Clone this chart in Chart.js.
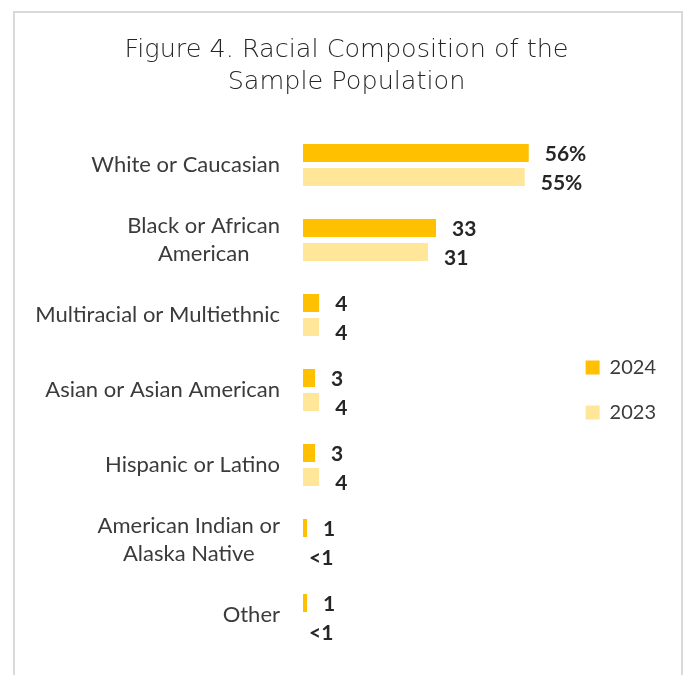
<!DOCTYPE html>
<html>
<head>
<meta charset="utf-8">
<script src="https://cdn.jsdelivr.net/npm/chart.js@4"></script>
<style>
  html, body { margin: 0; padding: 0; background: #ffffff; overflow: hidden; }
  #wrap { position: relative; width: 686px; height: 675px; }
  #frame {
    position: absolute; left: 13px; top: 11px; width: 666px; height: 700px;
    border: 2px solid #d9d9d9; border-bottom: none;
  }
  #chart { position: absolute; left: 0; top: 0; }
</style>
</head>
<body>
<div id="wrap">
  <div id="frame"></div>
  <canvas id="chart" width="686" height="675"></canvas>
</div>
<script>
/* categories, top to bottom */
const categories = [
    ["White or Caucasian"],
    ["Black or African", "American"],
    ["Multiracial or Multiethnic"],
    ["Asian or Asian American"],
    ["Hispanic or Latino"],
    ["American Indian or", "Alaska Native"],
    ["Other"]
];

/* percent of sample */
const values2024 = [56, 33, 4, 3, 3, 1, 1];
const values2023 = [55, 31, 4, 4, 4, 0, 0];

/* value labels as printed */
const labels2024 = ["56%", "33", "4", "3", "3", "1", "1"];
const labels2023 = ["55%", "31", "4", "4", "4", "<1", "<1"];

const seriesNames = ["2024", "2023"];

const TEXT_CLR  = "#3b3b3b";
const LABEL_FONT = "Lato, 'Open Sans', sans-serif";

/* category labels: block right aligned, lines centered inside the block */
const catLabelPlugin = {
    id: "catLabels",
    afterDraw (chart) {
        const ctx   = chart.ctx;
        const yScl  = chart.scales.y;
        const right = chart.chartArea.left - 23;
        const lineH = 28;
        ctx.save();
        ctx.font = "22px " + LABEL_FONT;
        ctx.fillStyle = TEXT_CLR;
        ctx.textAlign = "center";
        ctx.textBaseline = "middle";
        categories.forEach((lines, idx) => {
            let wid = 0;
            for (let ln of lines) {
                wid = Math.max(wid, ctx.measureText(ln).width);
            }
            const cx  = right - wid / 2;
            const cy  = yScl.getPixelForValue(idx);
            const top = cy - (lines.length - 1) * lineH / 2;
            lines.forEach((ln, lidx) => {
                ctx.fillText(ln, cx, top + lidx * lineH);
            });
        });
        ctx.restore();
    }
};

/* value labels at the end of each bar */
const valueLabelPlugin = {
    id: "valueLabels",
    afterDatasetsDraw (chart) {
        const ctx = chart.ctx;
        const texts = [labels2024, labels2023];
        const dy    = [1.5, 6];
        ctx.save();
        ctx.font = "bold 21px " + LABEL_FONT;
        ctx.fillStyle = "#262626";
        ctx.textAlign = "left";
        ctx.textBaseline = "middle";
        chart.data.datasets.forEach((ds, didx) => {
            const meta = chart.getDatasetMeta(didx);
            meta.data.forEach((bar, idx) => {
                /* zero-width bars get their label pulled in */
                const gap = (0 === ds.data[idx]) ? 6 : 16;
                ctx.fillText(texts[didx][idx], bar.x + gap, bar.y + dy[didx]);
            });
        });
        ctx.restore();
    }
};

new Chart(document.getElementById("chart").getContext("2d"), {
    type: "bar",
    data: {
        labels: categories,
        datasets: [
            {
                label: seriesNames[0],
                data: values2024,
                backgroundColor: "#FFC000",
                categoryPercentage: 0.64,
                barPercentage: 0.75
            },
            {
                label: seriesNames[1],
                data: values2023,
                backgroundColor: "#FFE699",
                categoryPercentage: 0.64,
                barPercentage: 0.75
            }
        ]
    },
    options: {
        indexAxis: "y",
        responsive: false,
        animation: false,
        layout: {
            padding: { left: 27, right: 20, top: 0, bottom: 22.5 }
        },
        scales: {
            x: {
                display: false,
                min: 0,
                max: 63.9
            },
            y: {
                grid: { display: false },
                border: { display: false },
                ticks: { display: false },
                afterFit (axis) {
                    axis.width = 276;
                }
            }
        },
        plugins: {
            title: {
                display: true,
                text: ["Figure 4. Racial Composition of the", "Sample Population"],
                color: "#262626",
                font: { family: "'DejaVu Sans', sans-serif", size: 25.5, weight: 200, lineHeight: "32px" },
                padding: { top: 34, bottom: 29.5 }
            },
            legend: {
                position: "right",
                align: "center",
                fullSize: false,
                labels: {
                    color: TEXT_CLR,
                    font: { family: LABEL_FONT, size: 20 },
                    boxWidth: 14,
                    boxHeight: 14,
                    padding: 25
                }
            },
            tooltip: { enabled: false }
        }
    },
    plugins: [catLabelPlugin, valueLabelPlugin]
});
</script>
</body>
</html>
